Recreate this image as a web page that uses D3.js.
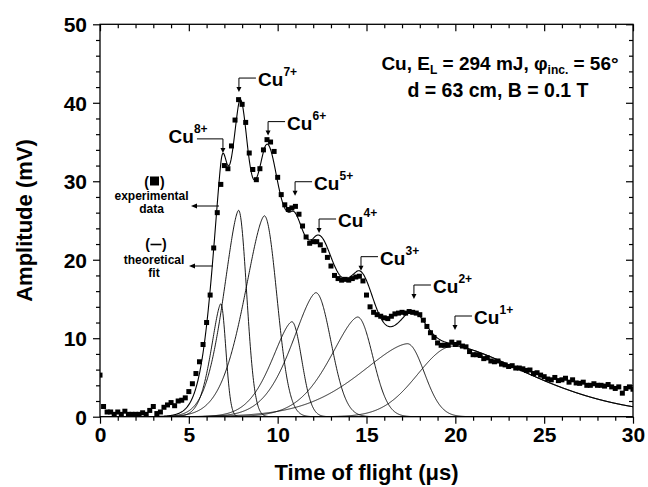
<!DOCTYPE html>
<html><head><meta charset="utf-8">
<script src="https://cdn.jsdelivr.net/npm/d3@7"></script>
<style>
body{margin:0;background:#fff}
text{font-family:"Liberation Sans",Arial,Helvetica,sans-serif;font-weight:bold;fill:#000}
</style>
</head><body>
<svg id="chart" width="648" height="487"></svg>
<script>
// ---- data ----
const timeStart = 0, timeStep = 0.2;          // µs, sampling of the measured trace
const amplitude = [                            // mV, experimental data
  5.3,1.3,0.6,0.6,0.3,0.6,0.3,0.7,0.3,0.3,
  0.3,0.3,0.5,0.3,0.8,1.3,0.4,0.6,1.2,1.5,
  1.8,1.4,2.0,2.1,2.4,3.2,4.2,5.5,7.0,9.2,
  12.0,15.5,21.5,26.0,29.6,32.0,31.6,34.5,37.8,40.4,
  39.8,37.5,33.6,31.5,30.2,31.6,34.0,35.3,35.0,33.8,
  30.5,28.3,27.0,26.4,26.6,26.8,25.8,24.3,22.9,22.1,
  22.3,22.3,21.9,21.2,20.3,19.2,18.0,17.6,17.4,17.5,
  17.4,17.6,17.8,17.9,17.3,15.5,14.0,13.3,13.0,12.8,
  12.6,12.5,12.8,13.1,13.2,13.3,13.2,13.4,13.3,13.2,
  13.0,12.3,11.5,10.7,10.1,9.4,9.1,9.1,9.1,9.5,
  9.2,9.4,9.0,8.9,8.3,7.9,7.9,7.8,7.4,7.5,
  7.1,7.0,7.1,6.7,6.6,6.4,6.5,6.2,6.2,6.1,
  5.9,5.95,5.5,5.6,5.3,5.1,4.8,4.7,5.0,4.6,
  4.7,4.9,4.4,4.7,4.3,4.25,4.4,4.0,4.0,4.2,
  4.0,4.0,3.9,4.1,3.8,3.6,3.8,3.0,3.6,3.8,
  3.5
];
// theoretical fit components (one per charge state)
const ionCharge  = ["8+","7+","6+","5+","4+","3+","2+","1+"];
const peakTime   = [6.8, 7.8, 9.25, 10.8, 12.15, 14.5, 17.3, 19.9];
const peakAmp    = [14.4, 26.3, 25.6, 12.1, 15.8, 12.7, 9.3, 9.0];
const widthLeft  = [0.53, 0.82, 1.1, 1.1, 1.3, 1.5, 2.6, 2.0];
const widthRight = [0.28, 0.45, 0.7, 0.55, 0.85, 0.85, 0.95, 4.23];
const shapeLeft  = [1.6, 1.6, 1.6, 1.6, 1.6, 1.6, 1.6, 2.0];
const shapeRight = [2, 2, 2, 2, 2, 2, 2, 1.57];
// label arrows: corner of the arrow (µs, mV)
const labelTime  = [6.92, 7.82, 9.46, 10.98, 12.33, 14.69, 17.67, 19.98];
const labelAmp   = [35.4, 43.15, 37.6, 29.94, 25.19, 20.39, 16.78, 12.83];
const xTicks = [0,5,10,15,20,25,30];
const yTicks = [0,10,20,30,40,50];

// ---- layout ----
const svg = d3.select("#chart");
const L = 100, R = 633, T = 24.3, B = 416.7;
const x = d3.scaleLinear().domain([0,30]).range([L,R]);
const y = d3.scaleLinear().domain([0,50]).range([B,T]);

const comp = (i,t) => {
  const d = t - peakTime[i];
  const s = d < 0 ? widthLeft[i] : widthRight[i];
  const p = d < 0 ? shapeLeft[i] : shapeRight[i];
  return peakAmp[i] * Math.exp(-0.5 * Math.pow(Math.abs(d)/s, p));
};
const tGrid = d3.range(0, 30.0001, 0.02);

svg.append("defs").append("clipPath").attr("id","clip")
  .append("rect").attr("x",L).attr("y",T).attr("width",R-L).attr("height",B-T);
const plot = svg.append("g").attr("clip-path","url(#clip)");

const line = d3.line().x(d=>x(d[0])).y(d=>y(d[1]));
ionCharge.forEach((c,i)=>{
  plot.append("path").datum(tGrid.map(t=>[t, comp(i,t)]))
    .attr("d",line).attr("fill","none").attr("stroke","#000").attr("stroke-width",0.9);
});
plot.append("path").datum(tGrid.map(t=>[t, d3.sum(ionCharge,(c,i)=>comp(i,t))]))
  .attr("d",line).attr("fill","none").attr("stroke","#000").attr("stroke-width",1.1);

const sq = 5;
plot.selectAll("rect.pt").data(amplitude).enter().append("rect").attr("class","pt")
  .attr("x",(d,i)=>x(timeStart+i*timeStep)-sq/2).attr("y",d=>y(d)-sq/2)
  .attr("width",sq).attr("height",sq).attr("fill","#000");

// ---- axes ----
function styleAxis(g){ g.select(".domain").remove(); g.selectAll("line").attr("stroke","#000").attr("stroke-width",1.2); }
const minorX = d3.range(0,31,1).filter(v=>v%5), minorY = d3.range(0,51,2).filter(v=>v%10);
const fs = 21;
svg.append("g").attr("transform",`translate(0,${B})`)
  .call(d3.axisBottom(x).tickValues(xTicks).tickSize(7).tickPadding(3).tickFormat(d3.format("d")))
  .call(styleAxis).call(g=>g.selectAll("text").attr("font-size",fs).attr("dy","0.72em"));
svg.append("g").attr("transform",`translate(0,${B})`)
  .call(d3.axisBottom(x).tickValues(minorX).tickSize(4).tickFormat("")).call(styleAxis);
svg.append("g").attr("transform",`translate(${L},0)`)
  .call(d3.axisLeft(y).tickValues(yTicks).tickSize(7).tickPadding(6).tickFormat(d3.format("d")))
  .call(styleAxis).call(g=>g.selectAll("text").attr("font-size",fs).attr("dy","0.36em"));
svg.append("g").attr("transform",`translate(${L},0)`)
  .call(d3.axisLeft(y).tickValues(minorY).tickSize(4).tickFormat("")).call(styleAxis);
svg.append("g").attr("transform",`translate(0,${T})`)
  .call(d3.axisTop(x).tickValues(xTicks).tickSize(-7).tickFormat("")).call(styleAxis);
svg.append("g").attr("transform",`translate(0,${T})`)
  .call(d3.axisTop(x).tickValues(minorX).tickSize(-4).tickFormat("")).call(styleAxis);
svg.append("g").attr("transform",`translate(${R},0)`)
  .call(d3.axisRight(y).tickValues(yTicks).tickSize(-7).tickFormat("")).call(styleAxis);
svg.append("g").attr("transform",`translate(${R},0)`)
  .call(d3.axisRight(y).tickValues(minorY).tickSize(-4).tickFormat("")).call(styleAxis);
svg.append("rect").attr("x",L).attr("y",T).attr("width",R-L).attr("height",B-T)
  .attr("fill","none").attr("stroke","#000").attr("stroke-width",1.3);

svg.append("text").attr("x",(L+R)/2).attr("y",480).attr("text-anchor","middle")
  .attr("font-size",22).text("Time of flight (μs)");
svg.append("text").attr("transform",`translate(32,${(T+B)/2}) rotate(-90)`)
  .attr("text-anchor","middle").attr("font-size",22).text("Amplitude (mV)");

// ---- parameter text ----
const info = svg.append("text").attr("x",500).attr("y",70).attr("text-anchor","middle").attr("font-size",19);
info.append("tspan").text("Cu, E");
info.append("tspan").attr("font-size",12).attr("dy",4).text("L");
info.append("tspan").attr("dy",-4).text(" = 294 mJ, φ");
info.append("tspan").attr("font-size",12).attr("dy",4).text("inc.");
info.append("tspan").attr("dy",-4).text(" = 56°");
svg.append("text").attr("x",498).attr("y",97).attr("text-anchor","middle").attr("font-size",19.5)
  .text("d = 63 cm, B = 0.1 T");

// ---- ion labels with arrows ----
function arrowDown(g, px, py){
  g.append("path").attr("d",`M${px-2.5},${py-5}L${px+2.5},${py-5}L${px},${py}Z`).attr("fill","#000");
}
ionCharge.forEach((c,i)=>{
  const cx = x(labelTime[i]), cy = y(labelAmp[i]);
  const g = svg.append("g");
  const left = i===0, len = left ? 26 : 17;
  const ex = left ? cx - len : cx + len;
  g.append("path").attr("d",`M${ex},${cy}H${cx}V${cy+11}`).attr("fill","none").attr("stroke","#000").attr("stroke-width",1);
  arrowDown(g, cx, cy+14);
  const t = g.append("text").attr("font-size",19);
  if(left){
    t.attr("x",ex-3).attr("y",cy+4).attr("text-anchor","end").text("Cu");
    g.append("text").attr("x",ex-3).attr("y",cy-6).attr("font-size",12).text(c);
  } else {
    t.attr("x",ex+2).attr("y",cy+8).text("Cu");
    const w = 25.5;
    g.append("text").attr("x",ex+2+w).attr("y",cy-2).attr("font-size",12).text(c);
  }
});

// ---- legend notes ----
const note = svg.append("g");
function leftArrow(x1, x2, yy){
  note.append("line").attr("x1",x1).attr("x2",x2+4).attr("y1",yy).attr("y2",yy).attr("stroke","#000").attr("stroke-width",1);
  note.append("path").attr("d",`M${x2},${yy}L${x2+6},${yy-2.5}L${x2+6},${yy+2.5}Z`).attr("fill","#000");
}
function parens(cx, base, halfGap){
  note.append("text").attr("x",cx-halfGap).attr("y",base).attr("text-anchor","end").attr("font-size",14).text("(");
  note.append("text").attr("x",cx+halfGap).attr("y",base).attr("text-anchor","start").attr("font-size",14).text(")");
}
parens(154.5, 187, 5.5);
note.append("rect").attr("x",150).attr("y",176.5).attr("width",9).attr("height",9).attr("fill","#000");
note.append("text").attr("x",151.5).attr("y",200).attr("text-anchor","middle").attr("font-size",12).text("experimental");
note.append("text").attr("x",151.5).attr("y",213).attr("text-anchor","middle").attr("font-size",12).text("data");
leftArrow(219, 191, 206);
parens(156, 249, 6);
note.append("line").attr("x1",150.5).attr("x2",161.5).attr("y1",244.5).attr("y2",244.5).attr("stroke","#000").attr("stroke-width",1.6);
note.append("text").attr("x",154).attr("y",264).attr("text-anchor","middle").attr("font-size",12).text("theoretical");
note.append("text").attr("x",154).attr("y",277).attr("text-anchor","middle").attr("font-size",12).text("fit");
leftArrow(213, 189, 266);
</script>
</body></html>
